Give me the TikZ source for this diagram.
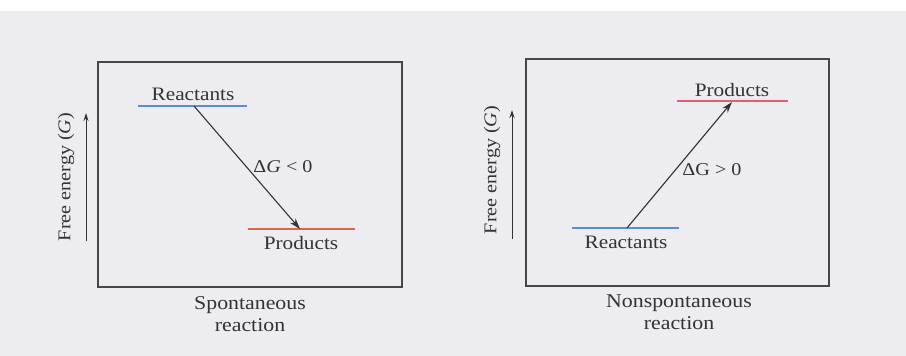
\documentclass[tikz,border=0pt]{standalone}
\usepackage{fontspec}
\setmainfont{Liberation Serif}[FakeStretch=1.12]
\usetikzlibrary{arrows.meta}
\definecolor{pagebg}{HTML}{EDECF1}
\definecolor{ink}{HTML}{333333}
\definecolor{reactblue}{HTML}{5A8ED8}
\definecolor{prodred}{HTML}{E0644E}
\definecolor{prodpink}{HTML}{E06070}
\tikzset{
  frame/.style={draw=ink!90, line width=1.4pt},
  level/.style={line width=2.4pt},
  lbl/.style={text=ink, font=\fontsize{19}{21}\selectfont, inner sep=0pt},
  axlbl/.style={text=ink, font=\fontsize{18}{20}\selectfont, inner sep=0pt, rotate=90},
  dglbl/.style={text=ink, font=\fontsize{18}{20}\selectfont, inner sep=0pt},
  caplbl/.style={text=ink, font=\fontsize{19.5}{22}\selectfont, inner sep=0pt, align=center},
  axis/.style={draw=ink, line width=1pt, -{Stealth[length=8pt,width=5pt]}},
  rxn/.style={draw=ink, line width=1.1pt, -{Stealth[length=11pt,width=7pt]}}
}
\begin{document}
\begin{tikzpicture}[x=1pt,y=-1pt]
\useasboundingbox (0,0) rectangle (906,356);
\fill[white] (0,0) rectangle (906,11);
\fill[pagebg] (0,11) rectangle (906,356);

% ---- left panel ----
\node[frame, minimum width=304pt, minimum height=225pt, inner sep=0pt] (boxL) at (250,174.5) {};
\coordinate (rLa) at (138,106); \coordinate (rLb) at (247,106);
\coordinate (pLa) at (248,229); \coordinate (pLb) at (355,229);
\draw[level, reactblue] (rLa) -- (rLb);
\draw[level, prodred] (pLa) -- (pLb);
\node[lbl] (reactL) at (193,94) {Reactants};
\node[lbl] (prodL) at (301,243) {Products};
\coordinate (aLs) at (194,106); \coordinate (aLe) at (300,229);
\draw[rxn] (aLs) -- (aLe);
\node[dglbl] (dgL) at (283,167) {Δ\textit{G} < 0};
\coordinate (yLa) at (86,241); \coordinate (yLb) at (86,113);
\draw[axis] (yLa) -- (yLb);
\node[axlbl] (yL) at (66,177) {Free energy (\textit{G})};
\node[caplbl] (capL) at (250,314) {Spontaneous\\reaction};

% ---- right panel ----
\node[frame, minimum width=303pt, minimum height=227pt, inner sep=0pt] (boxR) at (677.5,172.5) {};
\coordinate (pRa) at (677,101); \coordinate (pRb) at (788,101);
\coordinate (rRa) at (572,228); \coordinate (rRb) at (679,228);
\draw[level, prodpink] (pRa) -- (pRb);
\draw[level, reactblue] (rRa) -- (rRb);
\node[lbl] (prodR) at (732,90) {Products};
\node[lbl] (reactR) at (626,242) {Reactants};
\coordinate (aRs) at (627,228); \coordinate (aRe) at (732,102);
\draw[rxn] (aRs) -- (aRe);
\node[dglbl] (dgR) at (712,170) {ΔG > 0};
\coordinate (yRa) at (512,239); \coordinate (yRb) at (512,110);
\draw[axis] (yRa) -- (yRb);
\node[axlbl] (yR) at (492,170) {Free energy (\textit{G})};
\node[caplbl] (capR) at (679,312) {Nonspontaneous\\reaction};
\end{tikzpicture}
\end{document}
